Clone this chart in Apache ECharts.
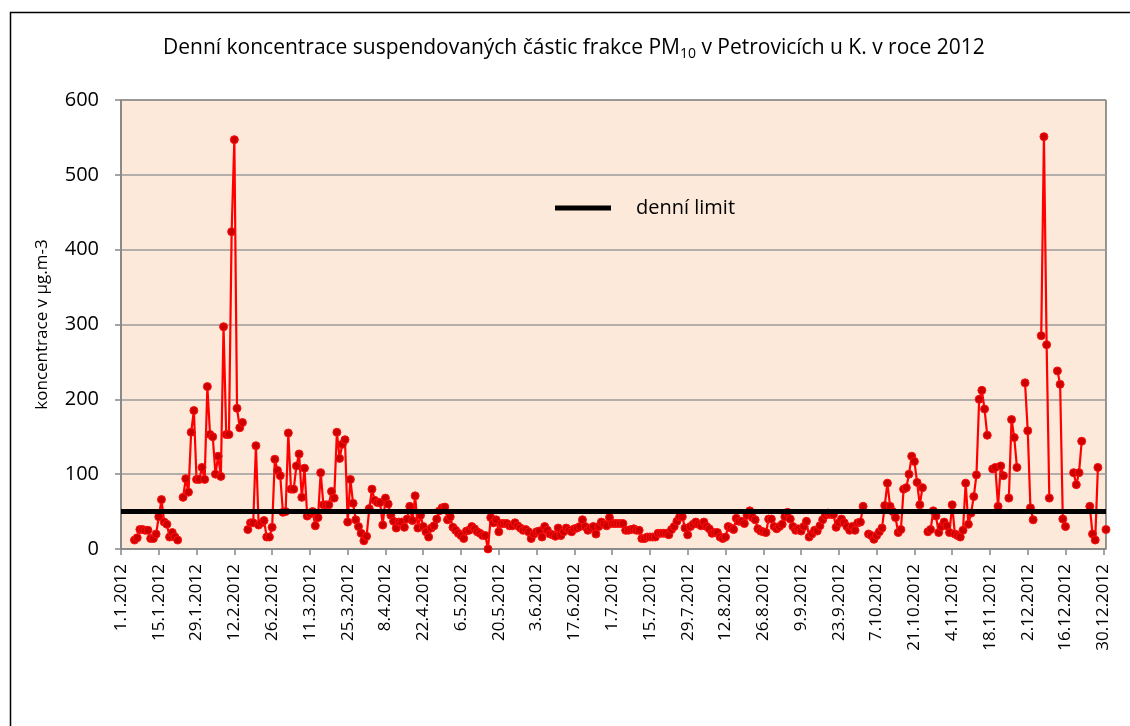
<!DOCTYPE html>
<html>
<head>
<meta charset="UTF-8">
<title>PM10 Petrovice 2012</title>
<style type="text/css">
    body,html{ margin:0; padding:0; width:100vw; height:100vh; overflow:hidden; background:#fff;}
    #chart{ width:1130px; height:726px;}
</style>
</head>
<body>
<div id="chart"></div>
<script src="https://cdn.jsdelivr.net/npm/echarts@6/dist/echarts.min.js"></script>
<script type="text/javascript">
// denní hodnoty PM10 (µg/m3) po měsících, null = chybějící den
var jan = [null,null,null,null,null,12,15,26,26,25,25,14,14,20,
           43,66,36,33,16,22,16,12,null,69,94,76,156,185,
           93,93,109];
var feb = [93,217,153,150,100,124,97,297,153,153,424,
           547,188,162,169,null,26,35,35,138,32,35,38,16,16,
           29,120,105,98];
var mar = [49,50,155,80,80,111,127,69,108,44,
           47,50,31,42,102,59,59,59,77,68,156,121,140,146,
           36,93,61,39,30,21,11];
var apr = [17,54,80,65,62,62,32,
           68,60,45,37,28,36,36,29,40,57,38,71,28,45,
           30,23,16,28,31,40,51,55,56];
var may = [39,43,29,25,21,
           18,14,24,25,30,27,23,21,18,18,0,42,35,39,
           23,34,34,34,31,31,35,31,28,25,26,23];
var jun = [14,20,
           23,24,16,30,25,20,19,17,28,18,23,28,25,23,
           27,28,30,39,30,25,28,30,20,30,36,33,31,42];
var jul = [34,34,34,34,34,25,25,26,27,25,25,14,14,16,
           16,16,16,21,21,21,21,19,26,30,37,43,43,28,
           19,30,33];
var aug = [36,33,31,36,30,27,21,22,22,16,14,
           16,30,28,26,41,37,37,34,45,51,42,39,27,24,
           23,22,40,40,30,27];
var sep = [30,33,43,49,40,30,25,27,
           24,30,37,16,20,25,24,31,39,45,48,46,46,29,
           35,40,35,30,25,30,25,35];
var oct = [36,57,null,20,18,13,
           18,23,28,58,88,57,50,42,22,26,80,82,100,124,
           117,89,59,82,null,23,26,51,44,22,30];
var nov = [36,31,22,
           59,20,18,16,25,88,33,48,70,99,200,212,187,152,
           null,107,109,57,111,98,null,68,173,149,109,null,null];
var dec = [222,
           158,55,39,null,null,285,551,273,68,null,null,238,220,40,
           30,null,null,102,86,102,144,null,null,57,20,12,109,null,
           null,26];

var dailyLimit = 50;
var monthDays = [31,29,31,30,31,30,31,31,30,31,30,31];
var yTicks = [0,100,200,300,400,500,600];

// popisky dnů 1.1.2012 ... 31.12.2012
var dates = [];
for (var m = 0; m < 12; m++) {
    for (var d = 1; d <= monthDays[m]; d++) {
        dates.push(d + '.' + (m + 1) + '.2012');
    }
}
var pm10 = [].concat(jan, feb, mar, apr, may, jun, jul, aug, sep, oct, nov, dec);
var limitData = dates.map(function () { return dailyLimit; });

var font = 'Open Sans';
var myChart = echarts.init(document.getElementById('chart'));
var option = {
    animation: false,
    textStyle: { fontFamily: font, color: '#000' },
    graphic: [{
        type: 'rect',
        left: 8, top: 10,
        shape: { width: 1300, height: 900 },
        style: { fill: 'none', stroke: '#000', lineWidth: 1.5 },
        z: -10
    }],
    title: {
        text: 'Denní koncentrace suspendovaných částic frakce PM{sub|10} v Petrovicích u K. v roce 2012',
        left: 158,
        top: 30,
        textStyle: {
            fontFamily: font,
            fontSize: 21,
            fontWeight: 'normal',
            color: '#000',
            rich: {
                sub: { fontFamily: font, fontSize: 14, color: '#000', padding: [12, 0, 0, 0] }
            }
        }
    },
    legend: {
        data: ['denní limit'],
        left: 550,
        top: 193,
        icon: 'rect',
        itemWidth: 56,
        itemHeight: 5,
        textStyle: { fontFamily: font, fontSize: 20, color: '#000', padding: [0, 0, 0, 20] }
    },
    grid: {
        left: 121,
        right: 24,
        top: 100,
        bottom: 177,
        show: true,
        backgroundColor: '#FDE9D9',
        borderColor: '#333',
        borderWidth: 1
    },
    xAxis: {
        type: 'category',
        data: dates,
        boundaryGap: false,
        axisLine: { lineStyle: { color: '#868686', width: 1.5 } },
        axisTick: { interval: 13, length: 6, lineStyle: { color: '#868686', width: 1.5 } },
        axisLabel: { interval: 13, rotate: 90, fontSize: 17, color: '#000', margin: 15, fontFamily: font }
    },
    yAxis: {
        type: 'value',
        min: yTicks[0],
        max: yTicks[yTicks.length - 1],
        interval: 100,
        name: 'koncentrace v µg.m-3',
        nameLocation: 'middle',
        nameRotate: 90,
        nameGap: 70,
        nameTextStyle: { fontFamily: font, fontSize: 17, color: '#000' },
        axisLine: { show: true, lineStyle: { color: '#868686', width: 1.5 } },
        axisTick: { show: true, length: 6, lineStyle: { color: '#868686', width: 1.5 } },
        axisLabel: { fontSize: 20, color: '#000', margin: 22, fontFamily: font },
        splitLine: { lineStyle: { color: '#9a9a9a', width: 1.5 } }
    },
    series: [{
        name: 'PM10',
        type: 'line',
        data: pm10,
        connectNulls: false,
        symbol: 'circle',
        symbolSize: 8,
        showAllSymbol: true,
        lineStyle: { color: '#FF0000', width: 2.2 },
        itemStyle: { color: '#CC0000', borderColor: '#FF1010', borderWidth: 1 },
        z: 2
    }, {
        name: 'denní limit',
        type: 'line',
        data: limitData,
        symbol: 'none',
        lineStyle: { color: '#000', width: 5 },
        itemStyle: { color: '#000' },
        z: 3
    }]
};
myChart.setOption(option);
</script>
</body>
</html>
